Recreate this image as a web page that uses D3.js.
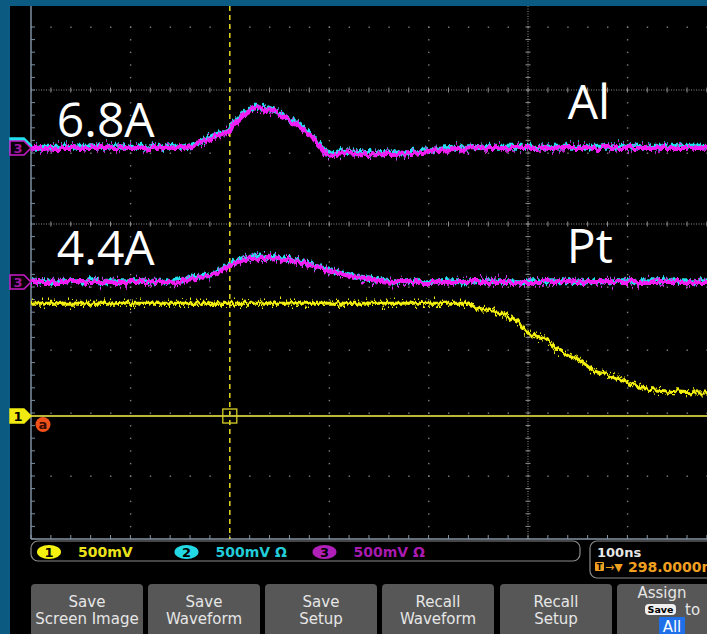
<!DOCTYPE html>
<html><head><meta charset="utf-8">
<script src="https://cdn.jsdelivr.net/npm/d3@7"></script>
<style>
html,body{margin:0;padding:0;background:#000;}
svg{display:block;}
</style></head><body>
<script>
// Timebase 100 ns/div, trigger at t = 0 ns. Channel values in mV, 500 mV/div.
// Upper capture (Al): CH2 and CH3 current probes
const alTime = [-200, -100, -47, -30, -13, -1, 3, 10, 17, 27, 37, 47, 57, 67, 78, 86, 93, 98, 104, 118, 131, 171, 221, 272, 400, 800];
const alCh3  = [0, 0, 0, 40, 100, 127, 175, 230, 280, 315, 310, 280, 240, 185, 120, 55, -10, -55, -50, -40, -50, -45, -10, 0, 0, 0];
const alCh2  = [10, 10, 10, 52, 112, 140, 188, 244, 294, 330, 325, 294, 252, 196, 130, 64, 0, -46, -40, -30, -40, -36, 0, 10, 10, 10];
// Lower capture (Pt)
const ptTime = [-200, -100, -60, -37, -17, 0, 7, 20, 35, 50, 70, 91, 111, 131, 151, 171, 400, 800];
const ptCh3  = [0, 0, 0, 30, 55, 130, 155, 180, 190, 180, 155, 110, 65, 30, 8, 0, 0, 0];
const ptCh2  = [6, 6, 6, 38, 64, 140, 166, 192, 202, 190, 164, 118, 72, 36, 14, 6, 6, 6];
// CH1 voltage
const ch1Time = [-200, 0, 150, 241, 248, 272, 289, 300, 315, 335, 352, 365, 382, 399, 415, 440, 473, 800];
const ch1Volt = [895, 895, 895, 895, 865, 818, 746, 659, 619, 508, 445, 365, 325, 270, 222, 198, 183, 180];

const labels = [
  {text: "6.8A", pane: "top", t: -174, div: 6.254},
  {text: "Al", pane: "top", t: 340, div: 6.54},
  {text: "4.4A", pane: "low", t: -174, div: 4.349},
  {text: "Pt", pane: "low", t: 339, div: 4.381}
];
const scaleLabels = [
  {ch: "1", text: "500mV"},
  {ch: "2", text: "500mV \u03A9"},
  {ch: "3", text: "500mV \u03A9"}
];
const buttons = [
  ["Save", "Screen Image"], ["Save", "Waveform"], ["Save", "Setup"],
  ["Recall", "Waveform"], ["Recall", "Setup"]
];
const timePerDiv = "100ns";
const triggerPos = "298.0000ns";

const W = 707, H = 634;
const colors = {ch1: "#f4f010", ch2: "#22e0ee", ch3: "#f41cf4", frame: "#0b5a82"};
const mvPerDiv = 500;
// channel ground positions, in divisions from the graticule bottom
const posAl3 = 6.079, posPt3 = 4.079, posCh1 = 1.952;

const x = d3.scaleLinear().domain([-200, 800]).range([31, 1025]);
const yLow = d3.scaleLinear().domain([0, 8]).range([539, 35]);
const yTop = d3.scaleLinear().domain([0, 8]).range([531, 27]);

const svg = d3.select("body").append("svg").attr("width", W).attr("height", H)
  .style("font-family", "'DejaVu Sans', sans-serif");
const defs = svg.append("defs");

defs.append("clipPath").attr("id", "paneTop").append("rect")
  .attr("x", 31).attr("y", 6).attr("width", W).attr("height", 214);
defs.append("clipPath").attr("id", "paneLow").append("rect")
  .attr("x", 31).attr("y", 220).attr("width", W).attr("height", 319);
defs.append("clipPath").attr("id", "screen").append("rect")
  .attr("x", 31).attr("y", 6).attr("width", W).attr("height", 533);

function jagFilter(id, freq, scale, seed) {
  const f = defs.append("filter").attr("id", id)
    .attr("filterUnits", "userSpaceOnUse").attr("x", 0).attr("y", 0)
    .attr("width", W).attr("height", H)
    .attr("color-interpolation-filters", "sRGB");
  f.append("feTurbulence").attr("type", "fractalNoise").attr("baseFrequency", freq)
    .attr("numOctaves", 2).attr("seed", seed).attr("result", "n");
  f.append("feColorMatrix").attr("in", "n").attr("type", "matrix")
    .attr("values", "0 0 0 0 0.5  0 1 0 0 0  0 0 0 0 0  0 0 0 0 1").attr("result", "m");
  f.append("feDisplacementMap").attr("in", "SourceGraphic").attr("in2", "m")
    .attr("scale", scale).attr("xChannelSelector", "R").attr("yChannelSelector", "G");
}
jagFilter("jagA", "0.3 0.03", 9, 3);
jagFilter("jagB", "0.5 0.03", 20, 7);
jagFilter("jagC", "0.35 0.03", 10, 11);

// frame
svg.append("rect").attr("width", W).attr("height", H).attr("fill", "#000");
svg.append("rect").attr("width", W).attr("height", 6).attr("fill", colors.frame);
svg.append("rect").attr("width", 10).attr("height", H).attr("fill", colors.frame);

// graticule
const majorT = d3.range(-200, 801, 100);
const minorT = d3.range(-200, 801, 20);
const minorDiv = d3.range(0, 8.001, 0.2);
const gridCol = "#808080";

function pane(clipId, y, sparseRows, denseRow) {
  const g = svg.append("g").attr("clip-path", `url(#${clipId})`);
  sparseRows.forEach(r => {
    g.selectAll(null).data(minorT).enter().append("rect")
      .attr("x", d => x(d) - 0.5).attr("y", y(r) - 0.5).attr("width", 1.4).attr("height", 1.4)
      .attr("fill", gridCol);
  });
  majorT.filter(t => t !== -200 && t !== 300 && t !== 0).forEach(t => {
    g.selectAll(null).data(minorDiv).enter().append("rect")
      .attr("x", x(t) - 0.5).attr("y", d => y(d) - 0.5).attr("width", 1.4).attr("height", 1.4)
      .attr("fill", gridCol);
  });
  g.append("line").attr("x1", 31).attr("x2", W).attr("y1", y(denseRow)).attr("y2", y(denseRow))
    .attr("stroke", "#909090").attr("stroke-width", 1).attr("stroke-dasharray", "1,1.5");
  g.selectAll(null).data(minorT).enter().append("line")
    .attr("x1", d => x(d)).attr("x2", d => x(d))
    .attr("y1", y(denseRow) - 2.5).attr("y2", y(denseRow) + 2.5)
    .attr("stroke", "#909090").attr("stroke-width", 1);
  g.append("line").attr("x1", x(300)).attr("x2", x(300)).attr("y1", 6).attr("y2", 539)
    .attr("stroke", "#909090").attr("stroke-width", 1).attr("stroke-dasharray", "1,1.5");
  g.selectAll(null).data(minorDiv).enter().append("line")
    .attr("x1", x(300) - 2.5).attr("x2", x(300) + 2.5)
    .attr("y1", d => y(d)).attr("y2", d => y(d))
    .attr("stroke", "#909090").attr("stroke-width", 1);
  g.selectAll(null).data(minorDiv).enter().append("line")
    .attr("x1", 31).attr("x2", 35).attr("y1", d => y(d)).attr("y2", d => y(d))
    .attr("stroke", "#7d8fa0").attr("stroke-width", 1);
  return g;
}
pane("paneTop", yTop, [6, 8], 7);
pane("paneLow", yLow, [1, 2, 3, 4], 5);

// borders
svg.append("line").attr("x1", 31).attr("x2", 31).attr("y1", 6).attr("y2", 539)
  .attr("stroke", "#7d8fa0").attr("stroke-width", 1.5);
svg.append("line").attr("x1", 31).attr("x2", W).attr("y1", 539).attr("y2", 539)
  .attr("stroke", "#8595a5").attr("stroke-width", 1.5);
svg.selectAll(null).data(minorT).enter().append("line")
  .attr("x1", d => x(d)).attr("x2", d => x(d)).attr("y1", 535).attr("y2", 539)
  .attr("stroke", "#8595a5").attr("stroke-width", 1);

// trigger position marker
svg.append("line").attr("x1", x(0)).attr("x2", x(0)).attr("y1", 6).attr("y2", 539)
  .attr("stroke", "#e6d820").attr("stroke-width", 1.5).attr("stroke-dasharray", "5,4");

// CH1 ground reference line
svg.append("line").attr("x1", 31).attr("x2", W)
  .attr("y1", yLow(posCh1)).attr("y2", yLow(posCh1))
  .attr("stroke", "#bdb43a").attr("stroke-width", 2);
svg.append("rect").attr("x", x(0) - 7).attr("y", yLow(posCh1) - 7)
  .attr("width", 14).attr("height", 14).attr("fill", "none")
  .attr("stroke", "#d8cf25").attr("stroke-width", 1.3);
svg.append("circle").attr("cx", 43).attr("cy", yLow(posCh1) + 8.5).attr("r", 7.5)
  .attr("fill", "#f0501a");
svg.append("text").attr("x", 43).attr("y", yLow(posCh1) + 13).attr("text-anchor", "middle")
  .attr("font-size", 13).attr("font-weight", "bold").attr("fill", "#3a0a00").text("a");

// traces
function trace(times, vals, yScale, pos, color, width, filt, spike) {
  const line = d3.line()
    .x((d, i) => x(times[i]))
    .y(d => yScale(pos + d / mvPerDiv))
    .curve(d3.curveMonotoneX);
  const g = svg.append("g").attr("clip-path", "url(#screen)");
  g.append("path").attr("d", line(vals)).attr("fill", "none")
    .attr("stroke", color).attr("stroke-width", width).attr("filter", `url(#${filt})`);
  g.append("path").attr("d", line(vals)).attr("fill", "none")
    .attr("stroke", color).attr("stroke-width", spike).attr("filter", "url(#jagB)");
}
trace(alTime, alCh2, yTop, posAl3, colors.ch2, 4, "jagC", 1.2);
trace(alTime, alCh3, yTop, posAl3, colors.ch3, 4, "jagA", 1.5);
trace(ptTime, ptCh2, yLow, posPt3, colors.ch2, 4, "jagC", 1.2);
trace(ptTime, ptCh3, yLow, posPt3, colors.ch3, 4, "jagA", 1.5);
trace(ch1Time, ch1Volt, yLow, posCh1, colors.ch1, 3, "jagA", 1.3);

// channel ground markers
function marker(yc, stroke, fill, label, labelCol) {
  const pts = [[10, yc - 7], [24, yc - 7], [31, yc], [24, yc + 7], [10, yc + 7]];
  svg.append("polygon").attr("points", pts.map(p => p.join(",")).join(" "))
    .attr("fill", fill).attr("stroke", stroke).attr("stroke-width", 1.5);
  if (label) svg.append("text").attr("x", 18).attr("y", yc + 5).attr("text-anchor", "middle")
    .attr("font-size", 13).attr("font-weight", "bold").attr("fill", labelCol).text(label);
}
marker(yTop(posAl3) - 3, colors.ch2, colors.ch2, null);
marker(yTop(posAl3), "#c81ec8", "#0a000a", "3", "#a018a0");
marker(yLow(posPt3), "#c81ec8", "#0a000a", "3", "#a018a0");
marker(yLow(posCh1), "#f0ea10", "#f0ea10", "1", "#000");

// annotations
labels.forEach(l => {
  const y = l.pane === "top" ? yTop : yLow;
  svg.append("text").attr("x", x(l.t)).attr("y", y(l.div))
    .attr("font-family", "'Open Sans', sans-serif").attr("font-size", 48)
    .attr("fill", "#fff").text(l.text);
});

// status bar
svg.append("rect").attr("x", 31).attr("y", 541).attr("width", 549).attr("height", 20)
  .attr("rx", 7).attr("fill", "#000").attr("stroke", "#8a8a8a").attr("stroke-width", 1.2);
const badgeX = [49, 186.5, 324.5];
const badgeFill = [colors.ch1, "#22d8e4", "#b020b8"];
const textCol = ["#ece41a", "#22ccd8", "#a81ab0"];
scaleLabels.forEach((s, i) => {
  svg.append("ellipse").attr("cx", badgeX[i]).attr("cy", 552).attr("rx", 12).attr("ry", 7)
    .attr("fill", badgeFill[i]);
  svg.append("text").attr("x", badgeX[i]).attr("y", 557).attr("text-anchor", "middle")
    .attr("font-size", 13).attr("font-weight", "bold").attr("fill", "#000").text(s.ch);
  svg.append("text").attr("x", badgeX[i] + 29).attr("y", 557)
    .attr("font-size", 14).attr("font-weight", "bold").attr("fill", textCol[i]).text(s.text);
});

// horizontal readout
svg.append("rect").attr("x", 590).attr("y", 541).attr("width", 140).attr("height", 37)
  .attr("rx", 7).attr("fill", "#000").attr("stroke", "#8a8a8a").attr("stroke-width", 1.2);
svg.append("text").attr("x", 597).attr("y", 557).attr("font-size", 13).attr("font-weight", "bold")
  .attr("fill", "#e8e8e8").text(timePerDiv);
svg.append("rect").attr("x", 595).attr("y", 562).attr("width", 9).attr("height", 9)
  .attr("rx", 1).attr("fill", "#f0a020");
svg.append("text").attr("x", 599.5).attr("y", 570).attr("text-anchor", "middle")
  .attr("font-size", 8).attr("font-weight", "bold").attr("fill", "#000").text("T");
svg.append("text").attr("x", 605).attr("y", 571).attr("font-size", 11)
  .attr("fill", "#f0a020").text("\u2192\u25BC");
svg.append("text").attr("x", 628).attr("y", 572).attr("font-size", 14).attr("font-weight", "bold")
  .attr("fill", "#f0a020").text(triggerPos);

// soft keys
const bx = [31, 148, 265, 382, 500];
buttons.forEach((b, i) => {
  svg.append("rect").attr("x", bx[i]).attr("y", 584).attr("width", 112).attr("height", 60)
    .attr("rx", 4).attr("fill", "#575757");
  b.forEach((t, j) => {
    svg.append("text").attr("x", bx[i] + 56).attr("y", 607 + j * 17).attr("text-anchor", "middle")
      .attr("font-size", 15).attr("fill", "#e6e6e6").text(t);
  });
});
svg.append("rect").attr("x", 617).attr("y", 584).attr("width", 112).attr("height", 60)
  .attr("rx", 4).attr("fill", "#575757");
svg.append("text").attr("x", 662).attr("y", 598).attr("text-anchor", "middle")
  .attr("font-size", 15).attr("fill", "#e6e6e6").text("Assign");
svg.append("rect").attr("x", 645).attr("y", 604).attr("width", 31).attr("height", 11)
  .attr("rx", 4).attr("fill", "#f0f0f0");
svg.append("text").attr("x", 660.5).attr("y", 613).attr("text-anchor", "middle")
  .attr("font-size", 9.5).attr("font-weight", "bold").attr("fill", "#000").text("Save");
svg.append("text").attr("x", 685).attr("y", 615).attr("font-size", 15)
  .attr("fill", "#e6e6e6").text("to");
svg.append("rect").attr("x", 659).attr("y", 617).attr("width", 26).attr("height", 17)
  .attr("fill", "#1f6fe8");
svg.append("text").attr("x", 672).attr("y", 632).attr("text-anchor", "middle")
  .attr("font-size", 15).attr("fill", "#fff").text("All");
</script>
</body></html>
